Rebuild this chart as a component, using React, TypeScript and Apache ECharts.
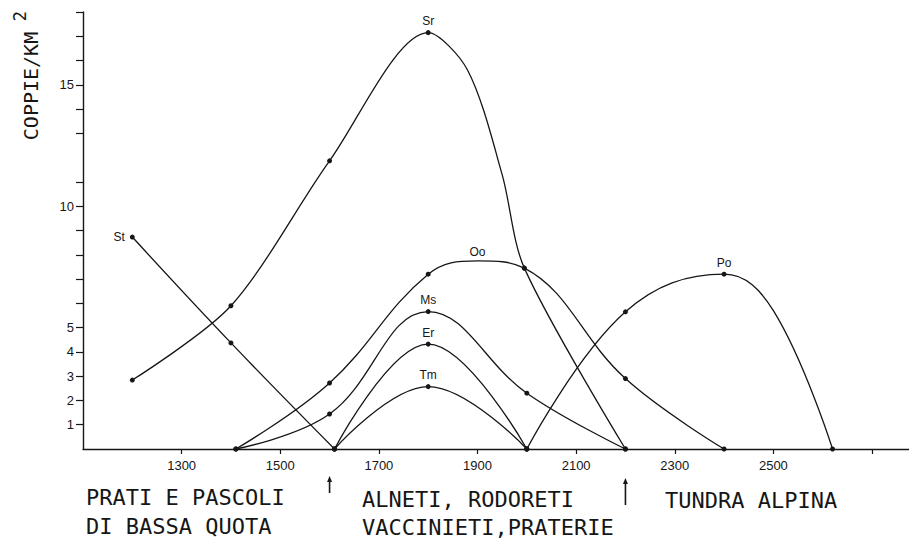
import React, { useEffect, useRef } from 'react';
import * as echarts from 'echarts';

// Axis ticks / labels
const ALT_TICKS = [1300, 1500, 1700, 1900, 2100, 2300, 2500, 2700];
const ALT_LABELS = [1300, 1500, 1700, 1900, 2100, 2300, 2500];
const DENSITY_TICKS = [1, 2, 3, 4, 5, 6, 7, 8, 9, 10, 11, 13, 14, 15, 16, 17, 18];
const DENSITY_LABELS = [1, 2, 3, 4, 5, 10, 15];

// Series: [altitude (m), pairs / km2]
const ST_POINTS = [[1200, 8.73], [1400, 4.37], [1610, 0]];
const SR_POINTS = [[1200, 2.84], [1400, 5.9], [1600, 11.87], [1800, 17.15], [1880, 15.6], [1950, 11.3], [1995, 7.45], [2200, 0]];
const OO_POINTS = [[1410, 0], [1600, 2.72], [1800, 7.2], [1900, 7.75], [1995, 7.45], [2200, 2.9], [2400, 0]];
const MS_POINTS = [[1410, 0], [1600, 1.44], [1800, 5.66], [2000, 2.3], [2200, 0]];
const ER_POINTS = [[1610, 0], [1800, 4.32], [2000, 0]];
const TM_POINTS = [[1610, 0], [1800, 2.57], [2000, 0]];
const PO_POINTS = [[2000, 0], [2200, 5.65], [2400, 7.2], [2500, 5.7], [2620, 0]];

// curve-only points (no dot drawn)
const SR_CURVE_ONLY = [1880, 1950];
const OO_CURVE_ONLY = [1900];
const PO_CURVE_ONLY = [2500];

// series name labels: name and altitude of the labelled point
const SERIES_NAMES = ['St', 'Sr', 'Oo', 'Ms', 'Er', 'Tm', 'Po'];
const LABEL_AT = [1200, 1800, 1900, 1800, 1800, 1800, 2400];

// vegetation belts
const BELT_BOUNDARIES = [1600, 2200];
const BELT_TEXT_LINE1 = ['PRATI E PASCOLI', 'ALNETI, RODORETI', 'TUNDRA ALPINA'];
const BELT_TEXT_LINE2 = ['DI BASSA QUOTA', 'VACCINIETI,PRATERIE'];

const INK = '#161616';

export default function App() {
  const ref = useRef<HTMLDivElement>(null);

  useEffect(() => {
    if (!ref.current) return;
    const chart = echarts.init(ref.current, null, { renderer: 'svg' });

    const allPoints = [ST_POINTS, SR_POINTS, OO_POINTS, MS_POINTS, ER_POINTS, TM_POINTS, PO_POINTS];
    const curveOnly: Record<string, number[]> = { Sr: SR_CURVE_ONLY, Oo: OO_CURVE_ONLY, Po: PO_CURVE_ONLY };

    const series = allPoints.map((pts, si) => {
      const name = SERIES_NAMES[si];
      const hidden = curveOnly[name] || [];
      return {
        type: 'line',
        name,
        smooth: name === 'Sr' ? 0.3 : 0.4,
        symbol: 'circle',
        symbolSize: 5,
        showAllSymbol: true,
        lineStyle: { color: INK, width: 1.3 },
        itemStyle: { color: INK },
        emphasis: { disabled: true },
        z: 3,
        data: pts.map((p) => {
          const item: any = { value: p };
          if (hidden.indexOf(p[0]) >= 0) item.symbolSize = 0;
          if (p[0] === LABEL_AT[si]) {
            item.label = {
              show: true,
              formatter: name,
              position: name === 'St' ? 'left' : 'top',
              distance: name === 'St' ? 5 : 3,
              color: INK,
              fontSize: 12,
              fontFamily: 'Liberation Sans, Arial, sans-serif',
            };
          }
          return item;
        }),
      };
    });

    const option: any = {
      animation: false,
      backgroundColor: '#ffffff',
      grid: { left: 83, right: 0, top: 12, bottom: 89, containLabel: false },
      xAxis: {
        type: 'value',
        min: 1100,
        max: 2775,
        axisLine: { show: true, lineStyle: { color: INK, width: 1.4 } },
        axisTick: { show: true, customValues: ALT_TICKS, length: 5, lineStyle: { color: INK, width: 1.2 } },
        axisLabel: {
          show: true,
          customValues: ALT_LABELS,
          formatter: (v: number) => String(v),
          margin: 10,
          color: INK,
          fontSize: 13,
          fontFamily: 'Liberation Sans, Arial, sans-serif',
        },
        splitLine: { show: false },
      },
      yAxis: {
        type: 'value',
        min: 0,
        max: 18,
        axisLine: { show: true, lineStyle: { color: INK, width: 1.4 } },
        axisTick: { show: true, customValues: DENSITY_TICKS, length: 7, lineStyle: { color: INK, width: 1.2 } },
        axisLabel: {
          show: true,
          customValues: DENSITY_LABELS,
          formatter: (v: number) => String(v),
          margin: 9,
          color: INK,
          fontSize: 13,
          fontFamily: 'Liberation Sans, Arial, sans-serif',
        },
        splitLine: { show: false },
      },
      series,
    };

    chart.setOption(option);

    const mono = 'DejaVu Sans Mono, monospace';
    const graphics: any[] = [
      {
        type: 'text',
        x: 31,
        y: 86,
        rotation: Math.PI / 2,
        style: { text: 'COPPIE/KM', fill: INK, font: `20px ${mono}`, align: 'center', verticalAlign: 'middle' },
      },
      {
        type: 'text',
        x: 20,
        y: 16,
        rotation: Math.PI / 2,
        style: { text: '2', fill: INK, font: `17px ${mono}`, align: 'center', verticalAlign: 'middle' },
      },
    ];

    const line1X = [86, 362, 665];
    const line1Y = [497, 499, 500];
    BELT_TEXT_LINE1.forEach((t, i) => {
      graphics.push({
        type: 'text',
        x: line1X[i],
        y: line1Y[i],
        style: { text: t, fill: INK, font: `22px ${mono}`, align: 'left', verticalAlign: 'middle' },
      });
    });
    const line2X = [86, 362];
    const line2Y = [526, 527];
    BELT_TEXT_LINE2.forEach((t, i) => {
      graphics.push({
        type: 'text',
        x: line2X[i],
        y: line2Y[i],
        style: { text: t, fill: INK, font: `22px ${mono}`, align: 'left', verticalAlign: 'middle' },
      });
    });

    const arrowTop = [476, 478];
    const arrowBottom = [493, 505];
    BELT_BOUNDARIES.forEach((alt, i) => {
      const px = chart.convertToPixel({ xAxisIndex: 0 }, alt) as number;
      graphics.push({
        type: 'line',
        shape: { x1: px, y1: arrowBottom[i], x2: px, y2: arrowTop[i] + 4 },
        style: { stroke: INK, lineWidth: 1.6 },
      });
      graphics.push({
        type: 'polygon',
        shape: { points: [[px - 2.5, arrowTop[i] + 6], [px, arrowTop[i]], [px + 2.5, arrowTop[i] + 6]] },
        style: { fill: INK },
      });
    });

    chart.setOption({ graphic: graphics });

    return () => chart.dispose();
  }, []);

  return (
    <div
      ref={ref}
      style={{ position: 'fixed', left: 0, top: 0, width: 909, height: 538, background: '#fff' }}
    />
  );
}
